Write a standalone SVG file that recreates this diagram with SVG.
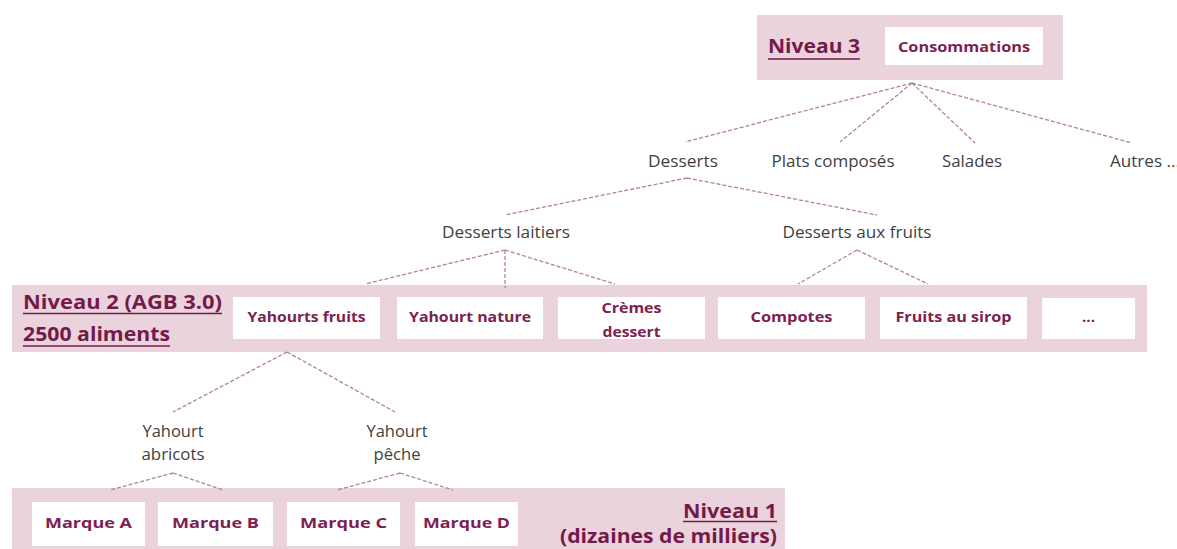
<svg xmlns="http://www.w3.org/2000/svg" width="1177" height="549" viewBox="0 0 1177 549">
  <style>
    .band { fill: #ead3dc; }
    .box { fill: #ffffff; }
    .lbl { font-family: "Open Sans", "Liberation Sans", sans-serif; font-weight: bold; font-size: 15px; fill: #7d2150; text-anchor: middle; }
    .lvl { font-family: "Open Sans", "Liberation Sans", sans-serif; font-weight: bold; font-size: 20px; fill: #74194a; }
    .ul { stroke: #74194a; stroke-width: 1.6; }
    .cat { font-family: "Open Sans", "Liberation Sans", sans-serif; font-size: 16px; fill: #3f3f3f; text-anchor: middle; }
    .link { fill: none; stroke: #b28393; stroke-width: 1.3; stroke-dasharray: 4 2; }
  </style>

  <!-- level bands -->
  <rect class="band" x="757" y="15" width="306" height="65"/>
  <rect class="band" x="12" y="285" width="1135" height="67"/>
  <rect class="band" x="12" y="488" width="773" height="61"/>

  <!-- level titles -->
  <g id="niveau3">
    <text class="lvl" x="768" y="53" textLength="92" lengthAdjust="spacingAndGlyphs">Niveau 3</text>
    <line class="ul" x1="768" y1="59" x2="860" y2="59"/>
  </g>
  <g id="niveau2">
    <text class="lvl" x="23" y="309" textLength="199" lengthAdjust="spacingAndGlyphs">Niveau 2 (AGB 3.0)</text>
    <line class="ul" x1="23" y1="313.5" x2="222" y2="313.5"/>
    <text class="lvl" x="23" y="341" textLength="147" lengthAdjust="spacingAndGlyphs">2500 aliments</text>
    <line class="ul" x1="23" y1="346" x2="170" y2="346"/>
  </g>
  <g id="niveau1">
    <text class="lvl" x="683" y="518" textLength="94" lengthAdjust="spacingAndGlyphs">Niveau 1</text>
    <line class="ul" x1="683" y1="521.5" x2="777" y2="521.5"/>
    <text class="lvl" x="560" y="543" textLength="217" lengthAdjust="spacingAndGlyphs">(dizaines de milliers)</text>
  </g>

  <!-- connectors -->
  <g id="connectors">
    <path class="link" d="M912 83 L685 142 M912 83 L840 142 M912 83 L975 143 M912 83 L1132 143"/>
    <path class="link" d="M687 178 L505 215 M687 178 L877 215"/>
    <path class="link" d="M505 250 L365 284 M505 250 L505 288 M505 250 L615 284"/>
    <path class="link" d="M857 250 L798 284 M857 250 L928 284"/>
    <path class="link" d="M287 352 L173 412 M287 352 L395 412"/>
    <path class="link" d="M173 473 L110 490 M173 473 L223 490"/>
    <path class="link" d="M400 473 L337 490 M400 473 L453 490"/>
  </g>

  <!-- level 3 -->
  <g id="consommations">
    <rect class="box" x="885" y="27" width="158" height="38"/>
    <text class="lbl" x="964" y="52" textLength="132" lengthAdjust="spacingAndGlyphs">Consommations</text>
  </g>

  <!-- intermediate categories -->
  <g id="desserts"><text class="cat" x="683" y="167" textLength="70" lengthAdjust="spacingAndGlyphs">Desserts</text></g>
  <g id="plats-composes"><text class="cat" x="833" y="167" textLength="123" lengthAdjust="spacingAndGlyphs">Plats composés</text></g>
  <g id="salades"><text class="cat" x="972" y="167" textLength="60" lengthAdjust="spacingAndGlyphs">Salades</text></g>
  <g id="autres"><text class="cat" x="1110" y="167" style="text-anchor:start" textLength="70" lengthAdjust="spacingAndGlyphs">Autres ...</text></g>
  <g id="desserts-laitiers"><text class="cat" x="506" y="238" textLength="128" lengthAdjust="spacingAndGlyphs">Desserts laitiers</text></g>
  <g id="desserts-aux-fruits"><text class="cat" x="857" y="238" textLength="149" lengthAdjust="spacingAndGlyphs">Desserts aux fruits</text></g>

  <!-- level 2 -->
  <g id="yahourts-fruits">
    <rect class="box" x="233" y="297" width="147" height="42"/>
    <text class="lbl" x="306.5" y="322" textLength="118" lengthAdjust="spacingAndGlyphs">Yahourts fruits</text>
  </g>
  <g id="yahourt-nature">
    <rect class="box" x="397" y="297" width="146" height="42"/>
    <text class="lbl" x="470" y="322" textLength="122" lengthAdjust="spacingAndGlyphs">Yahourt nature</text>
  </g>
  <g id="cremes-dessert">
    <rect class="box" x="558" y="297" width="147" height="42"/>
    <text class="lbl" x="631.5" y="313" textLength="60" lengthAdjust="spacingAndGlyphs">Crèmes</text>
    <text class="lbl" x="631.5" y="337" textLength="58" lengthAdjust="spacingAndGlyphs">dessert</text>
  </g>
  <g id="compotes">
    <rect class="box" x="718" y="297" width="147" height="42"/>
    <text class="lbl" x="791.5" y="322" textLength="82" lengthAdjust="spacingAndGlyphs">Compotes</text>
  </g>
  <g id="fruits-au-sirop">
    <rect class="box" x="880" y="297" width="147" height="42"/>
    <text class="lbl" x="953.5" y="322" textLength="116" lengthAdjust="spacingAndGlyphs">Fruits au sirop</text>
  </g>
  <g id="autres-aliments">
    <rect class="box" x="1042" y="298" width="93" height="41"/>
    <text class="lbl" x="1088.5" y="322">...</text>
  </g>

  <!-- sub-items of Yahourts fruits -->
  <g id="yahourt-abricots">
    <text class="cat" x="173" y="437" textLength="61" lengthAdjust="spacingAndGlyphs">Yahourt</text>
    <text class="cat" x="173" y="460" textLength="63" lengthAdjust="spacingAndGlyphs">abricots</text>
  </g>
  <g id="yahourt-peche">
    <text class="cat" x="397" y="437" textLength="61" lengthAdjust="spacingAndGlyphs">Yahourt</text>
    <text class="cat" x="397" y="460" textLength="47" lengthAdjust="spacingAndGlyphs">pêche</text>
  </g>

  <!-- level 1 -->
  <g id="marque-a">
    <rect class="box" x="32" y="502" width="113" height="44"/>
    <text class="lbl" x="88.5" y="528" textLength="87" lengthAdjust="spacingAndGlyphs">Marque  A</text>
  </g>
  <g id="marque-b">
    <rect class="box" x="158" y="502" width="115" height="44"/>
    <text class="lbl" x="215.5" y="528" textLength="87" lengthAdjust="spacingAndGlyphs">Marque  B</text>
  </g>
  <g id="marque-c">
    <rect class="box" x="287" y="502" width="113" height="44"/>
    <text class="lbl" x="343.5" y="528" textLength="87" lengthAdjust="spacingAndGlyphs">Marque  C</text>
  </g>
  <g id="marque-d">
    <rect class="box" x="415" y="502" width="103" height="44"/>
    <text class="lbl" x="466.5" y="528" textLength="87" lengthAdjust="spacingAndGlyphs">Marque  D</text>
  </g>
</svg>
